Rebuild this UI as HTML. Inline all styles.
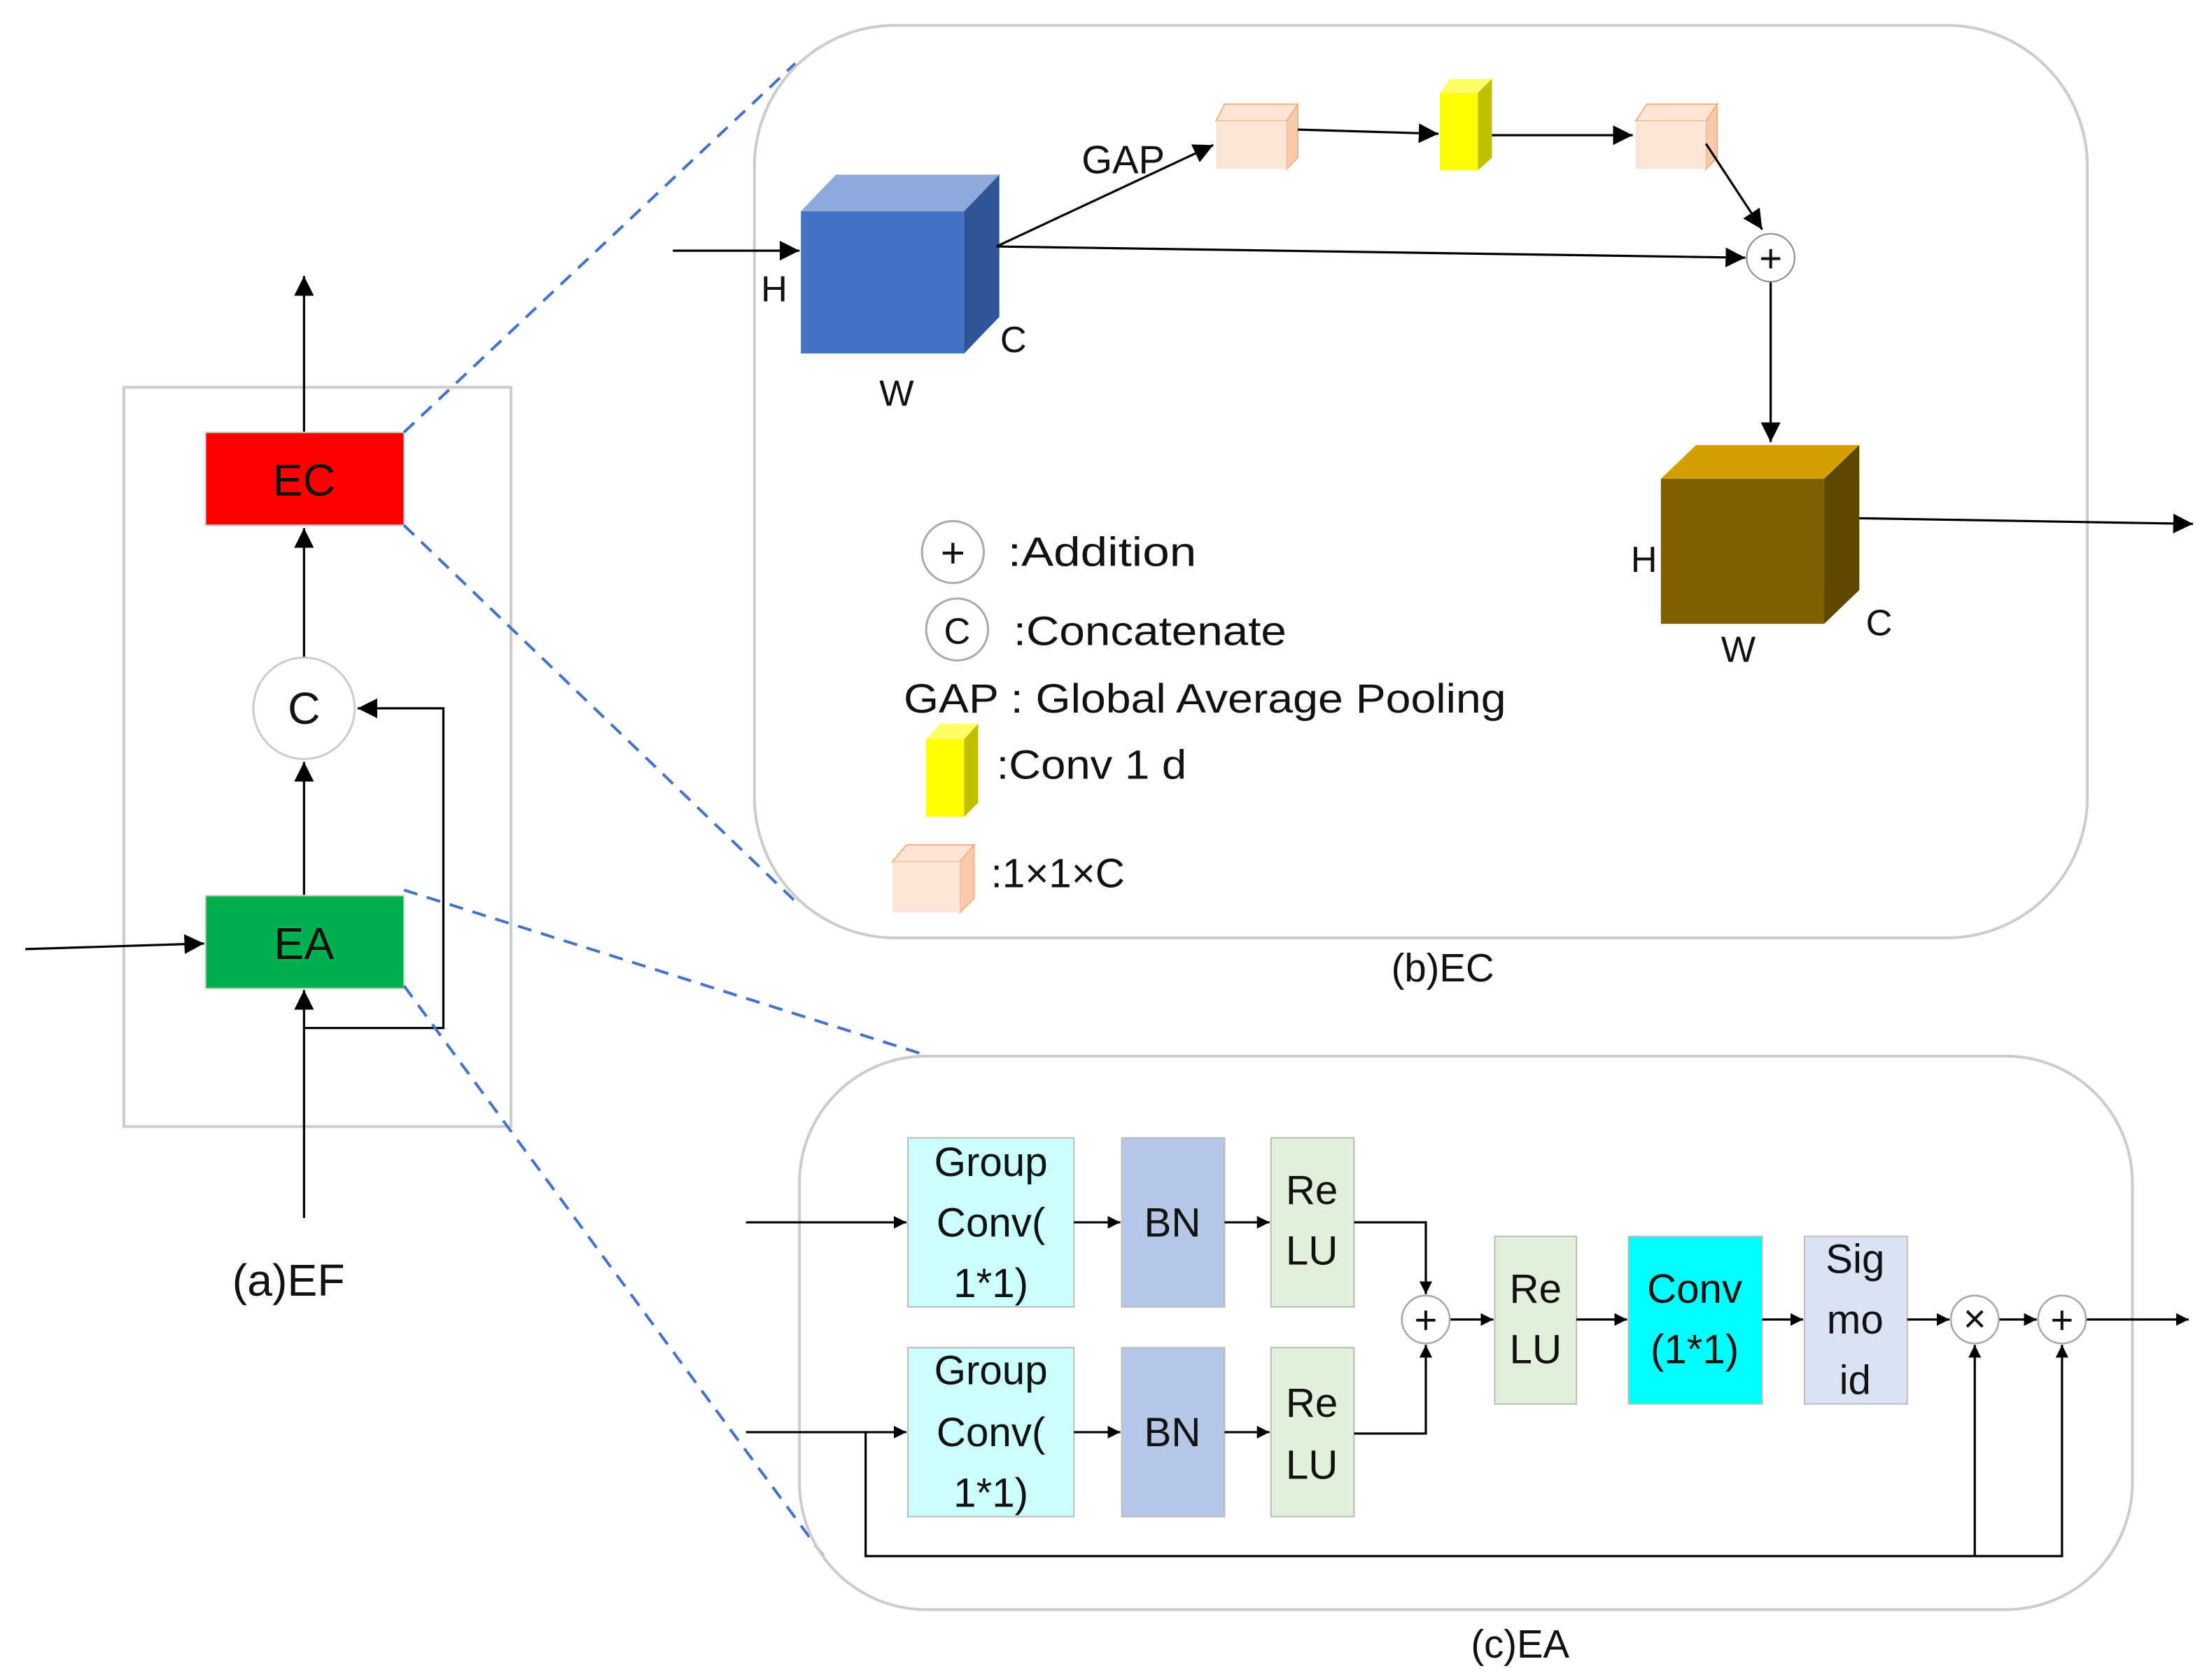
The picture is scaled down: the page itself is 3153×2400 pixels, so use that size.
<!DOCTYPE html>
<html><head><meta charset="utf-8"><style>
html,body{margin:0;padding:0;background:#fff;}
svg{display:block;}
text{font-family:"Liberation Sans","DejaVu Sans",sans-serif;fill:#111;}
</style></head><body>
<svg width="3153" height="2400" viewBox="0 0 1568 1193" preserveAspectRatio="none" xmlns="http://www.w3.org/2000/svg">
<defs>
<marker id="a" viewBox="0 0 10 10" refX="10" refY="5" markerWidth="9" markerHeight="9" markerUnits="userSpaceOnUse" orient="auto"><path d="M0,0 L10,5 L0,10 z" fill="#000"/></marker>
<marker id="b" viewBox="0 0 10 10" refX="10" refY="5" markerWidth="14" markerHeight="14" markerUnits="userSpaceOnUse" orient="auto"><path d="M0,0 L10,5 L0,10 z" fill="#000"/></marker>
</defs>
<g stroke="#000" stroke-width="1.6" fill="none">
<rect x="88" y="275" width="275" height="525" stroke="#ccc" stroke-width="2"/>
<line x1="216" y1="307" x2="216" y2="196" marker-end="url(#b)"/>
<line x1="216" y1="467" x2="216" y2="375" marker-end="url(#b)"/>
<line x1="216" y1="636" x2="216" y2="541" marker-end="url(#b)"/>
<polyline points="216,730 315,730 315,503 254,503" marker-end="url(#b)"/>
<line x1="18" y1="674" x2="145" y2="670" marker-end="url(#b)"/>
<line x1="216" y1="865" x2="216" y2="703" marker-end="url(#b)"/>
</g>
<rect x="146" y="307" width="141" height="66" fill="#ff0000" stroke="#d0d0d0"/>
<text x="216" y="352" font-size="32" text-anchor="middle">EC</text>
<circle cx="216" cy="503" r="36" fill="#fff" stroke="#ccc" stroke-width="1.5"/>
<text x="216" y="514" font-size="32" text-anchor="middle">C</text>
<rect x="146" y="636" width="141" height="66" fill="#00b050" stroke="#d0d0d0"/>
<text x="216" y="681" font-size="32" text-anchor="middle">EA</text>
<text x="205" y="920" font-size="32" text-anchor="middle">(a)EF</text>
<g stroke="#4472c4" stroke-width="2" stroke-dasharray="10,7" fill="none">
<line x1="287" y1="307" x2="565" y2="45"/>
<line x1="287" y1="373" x2="565" y2="640"/>
<line x1="287" y1="632" x2="660" y2="750"/>
<line x1="287" y1="700" x2="585" y2="1105"/>
</g>
<rect x="536" y="18" width="947" height="648" rx="100" fill="none" stroke="#ccc" stroke-width="2"/>
<text x="1025" y="697" font-size="28" text-anchor="middle">(b)EC</text>
<polygon points="569,150 594,124 710,124 685,150" fill="#8eaadb"/>
<polygon points="685,150 710,124 710,225 685,251" fill="#2f5597"/>
<rect x="569" y="150" width="116" height="101" fill="#4472c4"/>
<text x="550" y="214" font-size="26" text-anchor="middle">H</text>
<text x="720" y="250" font-size="26" text-anchor="middle">C</text>
<text x="637" y="288" font-size="26" text-anchor="middle">W</text>
<text x="798" y="123" font-size="28" text-anchor="middle">GAP</text>
<g>
<polygon points="864,86 870,74 922,74 914,86" fill="#fce4d6" stroke="#f4b183"/>
<polygon points="914,86 922,74 922,112 914,120" fill="#f8cbad" stroke="#f4b183"/>
<rect x="864" y="86" width="50" height="34" fill="#fbe5d6"/>
<polygon points="1023,66 1030,56 1060,56 1050,66" fill="#ffff66"/>
<polygon points="1050,66 1060,56 1060,112 1050,121" fill="#bfbf00"/>
<rect x="1023" y="66" width="27" height="55" fill="#ffff00"/>
<polygon points="1162,86 1170,74 1220,74 1212,86" fill="#fce4d6" stroke="#f4b183"/>
<polygon points="1212,86 1220,74 1220,112 1212,120" fill="#f8cbad" stroke="#f4b183"/>
<rect x="1162" y="86" width="50" height="34" fill="#fbe5d6"/>
</g>
<g stroke="#000" stroke-width="1.6" fill="none">
<line x1="478" y1="178" x2="568" y2="178" marker-end="url(#b)"/>
<line x1="708" y1="175" x2="862" y2="103" marker-end="url(#b)"/>
<line x1="922" y1="92" x2="1022" y2="95" marker-end="url(#b)"/>
<line x1="1060" y1="96" x2="1160" y2="96" marker-end="url(#b)"/>
<line x1="1212" y1="102" x2="1252" y2="163" marker-end="url(#b)"/>
<line x1="708" y1="175" x2="1240" y2="183" marker-end="url(#b)"/>
<line x1="1258" y1="200" x2="1258" y2="314" marker-end="url(#b)"/>
<line x1="1320" y1="368" x2="1558" y2="372" marker-end="url(#b)"/>
</g>
<circle cx="1258" cy="183" r="17" fill="#fff" stroke="#888"/>
<text x="1258" y="193" font-size="28" text-anchor="middle">+</text>
<polygon points="1180,340 1205,316 1321,316 1296,340" fill="#d4a000"/>
<polygon points="1296,340 1321,316 1321,419 1296,443" fill="#5c4600"/>
<rect x="1180" y="340" width="116" height="103" fill="#7f6000"/>
<text x="1168" y="406" font-size="26" text-anchor="middle">H</text>
<text x="1235" y="470" font-size="26" text-anchor="middle">W</text>
<text x="1335" y="451" font-size="26" text-anchor="middle">C</text>
<circle cx="677" cy="392" r="22" fill="#fff" stroke="#aaa" stroke-width="1.5"/>
<text x="677" y="403" font-size="30" text-anchor="middle">+</text>
<text x="716" y="402" font-size="29" textLength="134" lengthAdjust="spacingAndGlyphs">:Addition</text>
<circle cx="680" cy="447" r="22" fill="#fff" stroke="#aaa" stroke-width="1.5"/>
<text x="680" y="457" font-size="26" text-anchor="middle">C</text>
<text x="720" y="458" font-size="29" textLength="194" lengthAdjust="spacingAndGlyphs">:Concatenate</text>
<text x="642" y="506" font-size="29" textLength="428" lengthAdjust="spacingAndGlyphs">GAP : Global Average Pooling</text>
<polygon points="658,525 668,514 695,514 685,525" fill="#ffff66"/>
<polygon points="685,525 695,514 695,570 685,580" fill="#bfbf00"/>
<rect x="658" y="525" width="27" height="55" fill="#ffff00"/>
<text x="708" y="553" font-size="29" textLength="135" lengthAdjust="spacingAndGlyphs">:Conv 1 d</text>
<polygon points="634,612 644,600 692,600 682,612" fill="#fce4d6" stroke="#f4b183"/>
<polygon points="682,612 692,600 692,638 682,648" fill="#f8cbad" stroke="#f4b183"/>
<rect x="634" y="612" width="48" height="36" fill="#fbe5d6"/>
<text x="704" y="630" font-size="29">:1×1×C</text>
<rect x="568" y="750" width="947" height="393" rx="90" fill="none" stroke="#ccc" stroke-width="2"/>
<text x="1080" y="1177" font-size="28" text-anchor="middle">(c)EA</text>
<g stroke="#bbb" stroke-width="1">
<rect x="645" y="808" width="118" height="120" fill="#ccffff"/>
<rect x="797" y="808" width="73" height="120" fill="#b4c7e7"/>
<rect x="903" y="808" width="59" height="120" fill="#e2efda"/>
<rect x="645" y="957" width="118" height="120" fill="#ccffff"/>
<rect x="797" y="957" width="73" height="120" fill="#b4c7e7"/>
<rect x="903" y="957" width="59" height="120" fill="#e2efda"/>
<rect x="1062" y="878" width="58" height="119" fill="#e2efda"/>
<rect x="1157" y="878" width="95" height="119" fill="#00ffff"/>
<rect x="1282" y="878" width="73" height="119" fill="#dae3f3"/>
</g>
<g font-size="29" text-anchor="middle">
<text x="704" y="835">Group</text><text x="704" y="878">Conv(</text><text x="704" y="921">1*1)</text>
<text x="833" y="878">BN</text>
<text x="932" y="855">Re</text><text x="932" y="898">LU</text>
<text x="704" y="983">Group</text><text x="704" y="1027">Conv(</text><text x="704" y="1070">1*1)</text>
<text x="833" y="1027">BN</text>
<text x="932" y="1006">Re</text><text x="932" y="1050">LU</text>
<text x="1091" y="925">Re</text><text x="1091" y="968">LU</text>
<text x="1204" y="925">Conv</text><text x="1204" y="968">(1*1)</text>
<text x="1318" y="904">Sig</text><text x="1318" y="947">mo</text><text x="1318" y="990">id</text>
</g>
<g stroke="#000" stroke-width="1.6" fill="none">
<line x1="530" y1="868" x2="644" y2="868" marker-end="url(#a)"/>
<line x1="763" y1="868" x2="796" y2="868" marker-end="url(#a)"/>
<line x1="870" y1="868" x2="902" y2="868" marker-end="url(#a)"/>
<line x1="530" y1="1017" x2="644" y2="1017" marker-end="url(#a)"/>
<line x1="763" y1="1017" x2="796" y2="1017" marker-end="url(#a)"/>
<line x1="870" y1="1017" x2="902" y2="1017" marker-end="url(#a)"/>
<polyline points="962,868 1013,868 1013,919" marker-end="url(#a)"/>
<polyline points="962,1018 1013,1018 1013,955" marker-end="url(#a)"/>
<line x1="1030" y1="937" x2="1061" y2="937" marker-end="url(#a)"/>
<line x1="1120" y1="937" x2="1156" y2="937" marker-end="url(#a)"/>
<line x1="1252" y1="937" x2="1281" y2="937" marker-end="url(#a)"/>
<line x1="1355" y1="937" x2="1385" y2="937" marker-end="url(#a)"/>
<line x1="1420" y1="937" x2="1447" y2="937" marker-end="url(#a)"/>
<line x1="1482" y1="937" x2="1555" y2="937" marker-end="url(#a)"/>
<polyline points="615,1017 615,1105 1465,1105 1465,955" marker-end="url(#a)"/>
<line x1="1403" y1="1105" x2="1403" y2="955" marker-end="url(#a)"/>
</g>
<g fill="#fff" stroke="#aaa" stroke-width="1.3">
<circle cx="1013" cy="937" r="17"/><circle cx="1403" cy="937" r="17"/><circle cx="1465" cy="937" r="17"/>
</g>
<g font-size="28" text-anchor="middle">
<text x="1013" y="947">+</text><text x="1403" y="946">×</text><text x="1465" y="947">+</text>
</g>
</svg>
</body></html>
